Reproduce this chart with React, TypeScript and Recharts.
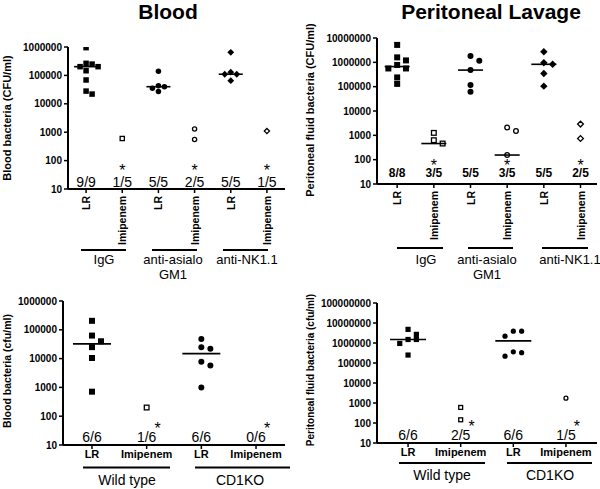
import React from "react";
import { ScatterChart, Scatter, XAxis, YAxis } from "recharts";

const FONT = "'Liberation Sans', Arial, Helvetica, sans-serif";

// ---- Blood (NK depletion) ----
const bloodCats = ["LR", "Imipenem", "LR", "Imipenem", "LR", "Imipenem"];
const bloodCounts = ["9/9", "1/5", "5/5", "2/5", "5/5", "1/5"];
const bloodN = [9, 5, 5, 5, 5, 5];
const bloodStars = [false, true, false, true, false, true];
const bloodIgGLR = [950000, 266000, 250000, 203000, 203000, 146000, 69000, 28000, 22000];
const bloodIgGImi = [600];
const bloodAsialoLR = [140000, 43000, 40000, 35000, 27000];
const bloodAsialoImi = [1300, 550];
const bloodNKLR = [650000, 130000, 110000, 110000, 65000];
const bloodNKImi = [1100];

// ---- Peritoneal lavage (NK depletion) ----
const periCounts = ["8/8", "3/5", "5/5", "3/5", "5/5", "2/5"];
const periN = [8, 5, 5, 5, 5, 5];
const periStars = [false, true, false, true, false, true];
const periIgGLR = [5200000, 1600000, 1200000, 780000, 560000, 560000, 240000, 130000];
const periIgGImi = [1260, 630, 460];
const periAsialoLR = [1800000, 1170000, 480000, 116000, 62000];
const periAsialoImi = [2100, 1500, 155];
const periNKLR = [2700000, 960000, 830000, 350000, 105000];
const periNKImi = [2900, 740];

// ---- Blood (CD1KO) ----
const koCats = ["LR", "Imipenem", "LR", "Imipenem"];
const bloodKoCounts = ["6/6", "1/6", "6/6", "0/6"];
const bloodKoN = [6, 6, 6, 6];
const koStars = [false, true, false, true];
const bloodWtLR = [205000, 63000, 40000, 25000, 10500, 710];
const bloodWtImi = [200];
const bloodKoLR = [48000, 25000, 22000, 7700, 5800, 1000];
const bloodKoImi: number[] = [];

// ---- Peritoneal (CD1KO) ----
const periKoCounts = ["6/6", "2/5", "6/6", "1/5"];
const periKoN = [6, 5, 6, 5];
const periWtLR = [4800000, 2700000, 1500000, 1500000, 950000, 250000];
const periWtImi = [600, 145];
const periKoLR = [3900000, 3900000, 2200000, 360000, 330000, 220000];
const periKoImi = [1750];

const ticks6 = [10, 100, 1000, 10000, 100000, 1000000];
const ticks7 = [10, 100, 1000, 10000, 100000, 1000000, 10000000];
const ticks8 = [10, 100, 1000, 10000, 100000, 1000000, 10000000, 100000000];

type Kind = "square" | "circle" | "diamond";
type Group = { vals: number[]; n: number; kind: Kind; filled: boolean };

function median(vals: number[], n: number) {
  const all = [...vals, ...Array(Math.max(0, n - vals.length)).fill(0)].sort((a, b) => a - b);
  const m = Math.floor(all.length / 2);
  return all.length % 2 ? all[m] : (all[m - 1] + all[m]) / 2;
}

// simple beeswarm so overlapping points sit side by side
function swarm(vals: number[], cx: number, step: number, th: number) {
  const placed: { x: number; l: number }[] = [];
  const order = [0, 1, -1, 2, -2, 3, -3];
  [...vals].sort((a, b) => b - a).forEach((v) => {
    const l = Math.log10(v);
    let x = cx;
    for (const o of order) {
      const tx = cx + o * step;
      if (!placed.some((p) => Math.abs(p.l - l) < th && Math.abs(p.x - tx) < step * 0.99)) {
        x = tx;
        break;
      }
    }
    placed.push({ x, l });
  });
  return placed.map((p) => ({ x: p.x, y: Math.pow(10, p.l) }));
}

const markShape = (kind: Kind, filled: boolean, s: number) => (p: any) => {
  const { cx, cy } = p;
  if (cx == null || cy == null) return <g />;
  const fill = filled ? "#000" : "#fff";
  const sw = filled ? 0 : 1.3;
  const d = filled ? s : s - 1.3;
  if (kind === "square")
    return <rect x={cx - d / 2} y={cy - d / 2} width={d} height={d} fill={fill} stroke="#000" strokeWidth={sw} />;
  if (kind === "circle") return <circle cx={cx} cy={cy} r={d / 2} fill={fill} stroke="#000" strokeWidth={sw} />;
  const h = d * 0.62;
  return (
    <polygon
      points={`${cx},${cy - h} ${cx + h},${cy} ${cx},${cy + h} ${cx - h},${cy}`}
      fill={fill}
      stroke="#000"
      strokeWidth={sw}
    />
  );
};

const medianShape = (hw: number) => (p: any) => {
  const { cx, cy } = p;
  if (cx == null || cy == null) return <g />;
  return <line x1={cx - hw} x2={cx + hw} y1={cy} y2={cy} stroke="#000" strokeWidth={1.6} />;
};

type PanelCfg = {
  left: number;
  top: number;
  width: number;
  height: number;
  mTop: number;
  mRight: number;
  yWidth: number;
  xHeight: number;
  xDomain: [number, number];
  yTicks: number[];
  cats: string[];
  counts: string[];
  stars: boolean[];
  groups: Group[];
  rotated: boolean;
  mark: number;
  step: number;
  th: number;
  medHalf: number;
  countDy: number;
  countSize: number;
  countBold: boolean;
  starDx: number;
  starDy: number;
  yFont: number;
};

const TICK_SIZE = 4;
const TICK_MARGIN = 1;

function Panel({ cfg }: { cfg: PanelCfg }) {
  const xTicks = cfg.cats.map((_, i) => i);
  const medians = cfg.groups
    .map((g, i) => ({ x: i, y: median(g.vals, g.n) }))
    .filter((d) => d.y > 0);

  const tick = (props: any) => {
    const { x, y, payload } = props;
    const i = payload.value as number;
    const axisY = y - TICK_SIZE - TICK_MARGIN;
    return (
      <g>
        {cfg.rotated ? (
          <text
            x={x}
            y={y + 2}
            transform={`rotate(-90 ${x} ${y + 2})`}
            textAnchor="end"
            dominantBaseline="central"
            fontSize={10.5}
            fontWeight="bold"
            fill="#000"
          >
            {cfg.cats[i]}
          </text>
        ) : (
          <text x={x} y={y + 8} textAnchor="middle" fontSize={11} fontWeight="bold" fill="#000">
            {cfg.cats[i]}
          </text>
        )}
        <text
          x={x}
          y={axisY - cfg.countDy}
          textAnchor="middle"
          fontSize={cfg.countSize}
          fontWeight={cfg.countBold ? "bold" : "normal"}
          fill="#000"
        >
          {cfg.counts[i]}
        </text>
        {cfg.stars[i] && (
          <text x={x + cfg.starDx} y={axisY - cfg.starDy} textAnchor="middle" fontSize={16} fill="#000">
            *
          </text>
        )}
      </g>
    );
  };

  return (
    <div style={{ position: "absolute", left: cfg.left, top: cfg.top }}>
      <ScatterChart
        width={cfg.width}
        height={cfg.height}
        margin={{ top: cfg.mTop, right: cfg.mRight, bottom: 0, left: 0 }}
      >
        <XAxis
          type="number"
          dataKey="x"
          domain={cfg.xDomain}
          ticks={xTicks}
          interval={0}
          allowDataOverflow
          height={cfg.xHeight}
          tickSize={TICK_SIZE}
          tickMargin={TICK_MARGIN}
          axisLine={{ stroke: "#000", strokeWidth: 2 }}
          tickLine={{ stroke: "#000", strokeWidth: 1.5 }}
          tick={tick}
        />
        <YAxis
          type="number"
          dataKey="y"
          scale="log"
          domain={[cfg.yTicks[0], cfg.yTicks[cfg.yTicks.length - 1]]}
          ticks={cfg.yTicks}
          interval={0}
          allowDataOverflow
          width={cfg.yWidth}
          tickSize={TICK_SIZE}
          tickMargin={2}
          axisLine={{ stroke: "#000", strokeWidth: 2 }}
          tickLine={{ stroke: "#000", strokeWidth: 1.5 }}
          tick={{ fontSize: cfg.yFont, fontWeight: "bold", fill: "#000" }}
          tickFormatter={(v: number) => String(v)}
        />
        {cfg.groups.map((g, i) => (
          <Scatter
            key={i}
            data={swarm(g.vals, i, cfg.step, cfg.th)}
            shape={markShape(g.kind, g.filled, cfg.mark)}
            isAnimationActive={false}
          />
        ))}
        <Scatter data={medians} shape={medianShape(cfg.medHalf)} isAnimationActive={false} />
      </ScatterChart>
    </div>
  );
}

const topLeft: PanelCfg = {
  left: 0, top: 0, width: 300, height: 250, mTop: 47, mRight: 15, yWidth: 68, xHeight: 61,
  xDomain: [-0.5, 5.5], yTicks: ticks6, cats: bloodCats, counts: bloodCounts, stars: bloodStars,
  groups: [
    { vals: bloodIgGLR, n: bloodN[0], kind: "square", filled: true },
    { vals: bloodIgGImi, n: bloodN[1], kind: "square", filled: false },
    { vals: bloodAsialoLR, n: bloodN[2], kind: "circle", filled: true },
    { vals: bloodAsialoImi, n: bloodN[3], kind: "circle", filled: false },
    { vals: bloodNKLR, n: bloodN[4], kind: "diamond", filled: true },
    { vals: bloodNKImi, n: bloodN[5], kind: "diamond", filled: false },
  ],
  rotated: true, mark: 5.5, step: 0.166, th: 0.2, medHalf: 12,
  countDy: 2, countSize: 14, countBold: false, starDx: 0, starDy: 13, yFont: 10,
};

const topRight: PanelCfg = {
  left: 300, top: 0, width: 300, height: 250, mTop: 38, mRight: 3, yWidth: 77, xHeight: 66,
  xDomain: [-0.55, 5.45], yTicks: ticks7, cats: bloodCats, counts: periCounts, stars: periStars,
  groups: [
    { vals: periIgGLR, n: periN[0], kind: "square", filled: true },
    { vals: periIgGImi, n: periN[1], kind: "square", filled: false },
    { vals: periAsialoLR, n: periN[2], kind: "circle", filled: true },
    { vals: periAsialoImi, n: periN[3], kind: "circle", filled: false },
    { vals: periNKLR, n: periN[4], kind: "diamond", filled: true },
    { vals: periNKImi, n: periN[5], kind: "diamond", filled: false },
  ],
  rotated: true, mark: 6, step: 0.24, th: 0.25, medHalf: 12.5,
  countDy: 7, countSize: 12, countBold: true, starDx: 0, starDy: 13, yFont: 10,
};

const bottomLeft: PanelCfg = {
  left: 0, top: 250, width: 300, height: 239, mTop: 51, mRight: 15, yWidth: 63, xHeight: 44,
  xDomain: [-0.53, 3.53], yTicks: ticks6, cats: koCats, counts: bloodKoCounts, stars: koStars,
  groups: [
    { vals: bloodWtLR, n: bloodKoN[0], kind: "square", filled: true },
    { vals: bloodWtImi, n: bloodKoN[1], kind: "square", filled: false },
    { vals: bloodKoLR, n: bloodKoN[2], kind: "circle", filled: true },
    { vals: bloodKoImi, n: bloodKoN[3], kind: "circle", filled: false },
  ],
  rotated: false, mark: 6, step: 0.165, th: 0.21, medHalf: 19,
  countDy: 3, countSize: 14, countBold: false, starDx: 11, starDy: 11, yFont: 10,
};

const bottomRight: PanelCfg = {
  left: 300, top: 250, width: 300, height: 239, mTop: 53, mRight: 3, yWidth: 77, xHeight: 46,
  xDomain: [-0.59, 3.59], yTicks: ticks8, cats: koCats, counts: periKoCounts, stars: koStars,
  groups: [
    { vals: periWtLR, n: periKoN[0], kind: "square", filled: true },
    { vals: periWtImi, n: periKoN[1], kind: "square", filled: false },
    { vals: periKoLR, n: periKoN[2], kind: "circle", filled: true },
    { vals: periKoImi, n: periKoN[3], kind: "circle", filled: false },
  ],
  rotated: false, mark: 5.2, step: 0.158, th: 0.25, medHalf: 18,
  countDy: 3, countSize: 14, countBold: false, starDx: 11, starDy: 11, yFont: 10,
};

// annotation layer: titles, axis titles, group brackets
const groupLines: [number, number, number][] = [
  [81, 126, 250], [152, 197, 250], [223, 268, 250],
  [397, 443, 248], [468, 513, 248], [542, 588, 248],
  [83, 170, 467.5], [195, 290, 467.5],
  [399, 485, 463], [507, 592, 463],
];
const groupLabels: [string, number, number, number][] = [
  ["IgG", 104, 264, 13], ["anti-asialo", 173, 264, 13], ["GM1", 173, 279, 13], ["anti-NK1.1", 247, 264, 13],
  ["IgG", 426, 264, 13], ["anti-asialo", 487, 264, 13], ["GM1", 487, 279, 13], ["anti-NK1.1", 570, 264, 13],
  ["Wild type", 127, 485, 14], ["CD1KO", 240, 485, 14],
  ["Wild type", 442, 480, 14], ["CD1KO", 550, 480, 14],
];
const yTitles: [string, number, number, number][] = [
  ["Blood bacteria (CFU/ml)", 7, 118, 11],
  ["Peritoneal fluid bacteria (CFU/ml)", 310, 110, 11],
  ["Blood bacteria (cfu/ml)", 7, 371, 10.5],
  ["Peritoneal fluid bacteria (cfu/ml)", 310, 370, 10],
];

export default function App() {
  return (
    <div
      style={{
        position: "fixed",
        left: 0,
        top: 0,
        width: 600,
        height: 489,
        background: "#fff",
        fontFamily: FONT,
        overflow: "hidden",
      }}
    >
      <Panel cfg={topLeft} />
      <Panel cfg={topRight} />
      <Panel cfg={bottomLeft} />
      <Panel cfg={bottomRight} />
      <svg width={600} height={489} style={{ position: "absolute", left: 0, top: 0, pointerEvents: "none" }}>
        <text x={168} y={19} textAnchor="middle" fontSize={21} fontWeight="bold" fill="#000">
          Blood
        </text>
        <text x={491} y={19} textAnchor="middle" fontSize={21} fontWeight="bold" fill="#000">
          Peritoneal Lavage
        </text>
        {yTitles.map(([t, x, y, fs], i) => (
          <text
            key={i}
            x={x}
            y={y}
            transform={`rotate(-90 ${x} ${y})`}
            textAnchor="middle"
            dominantBaseline="central"
            fontSize={fs}
            fontWeight="bold"
            fill="#000"
          >
            {t}
          </text>
        ))}
        {groupLines.map(([x1, x2, y], i) => (
          <line key={i} x1={x1} x2={x2} y1={y} y2={y} stroke="#000" strokeWidth={2} />
        ))}
        {groupLabels.map(([t, x, y, fs], i) => (
          <text key={i} x={x} y={y} textAnchor="middle" fontSize={fs} fill="#000">
            {t}
          </text>
        ))}
      </svg>
    </div>
  );
}
